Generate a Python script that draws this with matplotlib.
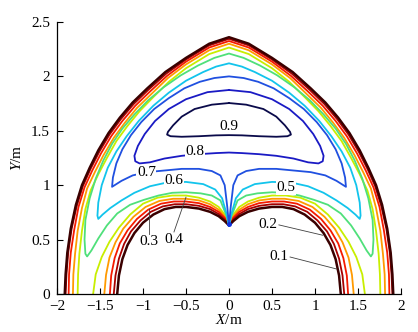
import numpy as np
import matplotlib
matplotlib.use('Agg')
import matplotlib.pyplot as plt

plt.rcParams['font.family'] = ['Liberation Serif', 'DejaVu Serif']
plt.rcParams['mathtext.fontset'] = 'custom'
plt.rcParams['mathtext.it'] = 'Liberation Serif:italic'
plt.rcParams['mathtext.rm'] = 'Liberation Serif'

# contour lines (right half, mirrored at x = 0)
# outer boundary and the levels that run along it: top -> right bottom
out_x = {
    0.0: [0.00, 0.23, 0.50, 0.74, 0.95, 1.12, 1.27, 1.40, 1.52, 1.62, 1.71, 1.78, 1.84, 1.88, 1.90, 1.91],
    0.1: [0.00, 0.23, 0.50, 0.73, 0.94, 1.11, 1.26, 1.39, 1.51, 1.61, 1.70, 1.77, 1.83, 1.87, 1.89, 1.90],
    0.2: [0.00, 0.23, 0.50, 0.72, 0.92, 1.09, 1.24, 1.37, 1.49, 1.59, 1.68, 1.75, 1.80, 1.84, 1.86, 1.865],
    0.3: [0.00, 0.23, 0.50, 0.71, 0.90, 1.07, 1.21, 1.34, 1.46, 1.56, 1.65, 1.71, 1.76, 1.79, 1.81, 1.815],
    0.4: [0.00, 0.23, 0.50, 0.70, 0.88, 1.04, 1.18, 1.31, 1.42, 1.52, 1.61, 1.67, 1.71, 1.74, 1.755, 1.76],
}
out_y = {
    0.0: [2.36, 2.30, 2.17, 2.04, 1.89, 1.76, 1.62, 1.48, 1.32, 1.16, 1.00, 0.82, 0.60, 0.38, 0.18, 0.00],
    0.1: [2.345, 2.285, 2.155, 2.025, 1.875, 1.745, 1.605, 1.465, 1.305, 1.15, 0.99, 0.81, 0.60, 0.38, 0.18, 0.00],
    0.2: [2.325, 2.265, 2.135, 2.005, 1.86, 1.73, 1.59, 1.45, 1.29, 1.135, 0.98, 0.80, 0.59, 0.38, 0.18, 0.00],
    0.3: [2.30, 2.24, 2.11, 1.985, 1.84, 1.71, 1.575, 1.435, 1.275, 1.12, 0.97, 0.79, 0.58, 0.37, 0.18, 0.00],
    0.4: [2.265, 2.205, 2.075, 1.95, 1.81, 1.68, 1.545, 1.405, 1.25, 1.10, 0.95, 0.78, 0.58, 0.37, 0.18, 0.00],
}

# inner boundary and levels along it: cusp -> right bottom
in_x = {
    0.0: [0.00, 0.05, 0.12, 0.22, 0.35, 0.50, 0.62, 0.75, 0.88, 1.00, 1.10, 1.18, 1.24, 1.28, 1.30],
    0.1: [0.00, 0.05, 0.12, 0.22, 0.35, 0.50, 0.63, 0.77, 0.91, 1.03, 1.14, 1.22, 1.28, 1.32, 1.34],
    0.2: [0.00, 0.05, 0.12, 0.22, 0.35, 0.50, 0.64, 0.79, 0.94, 1.07, 1.18, 1.27, 1.33, 1.37, 1.385],
    0.3: [0.00, 0.05, 0.12, 0.22, 0.35, 0.50, 0.65, 0.81, 0.97, 1.11, 1.23, 1.32, 1.39, 1.43, 1.45],
    0.4: [0.00, 0.05, 0.12, 0.22, 0.35, 0.50, 0.66, 0.83, 1.00, 1.15, 1.28, 1.39, 1.48, 1.55, 1.58],
}
in_y = {
    0.0: [0.63, 0.67, 0.715, 0.755, 0.785, 0.80, 0.80, 0.78, 0.73, 0.655, 0.56, 0.45, 0.32, 0.17, 0.00],
    0.1: [0.63, 0.685, 0.735, 0.78, 0.81, 0.825, 0.825, 0.805, 0.755, 0.675, 0.575, 0.46, 0.325, 0.17, 0.00],
    0.2: [0.63, 0.70, 0.755, 0.80, 0.835, 0.85, 0.85, 0.83, 0.775, 0.69, 0.585, 0.465, 0.33, 0.17, 0.00],
    0.3: [0.63, 0.715, 0.775, 0.825, 0.86, 0.875, 0.875, 0.855, 0.80, 0.71, 0.60, 0.475, 0.335, 0.175, 0.00],
    0.4: [0.63, 0.73, 0.80, 0.85, 0.885, 0.905, 0.905, 0.885, 0.83, 0.73, 0.61, 0.48, 0.34, 0.18, 0.00],
}

# levels that leave the cusp, turn on the right side and go over the top
loop_x = {
    0.5: [0.00, 0.03, 0.10, 0.20, 0.33, 0.50, 0.66, 0.82, 0.99, 1.15, 1.30, 1.42, 1.52, 1.60, 1.65, 1.67,
          1.68, 1.67, 1.62, 1.55, 1.46, 1.36, 1.24, 1.10, 0.94, 0.76, 0.56, 0.36, 0.17, 0.00],
    0.6: [0.00, 0.03, 0.08, 0.16, 0.30, 0.50, 0.72, 0.92, 1.10, 1.25, 1.38, 1.47, 1.52, 1.53, 1.52, 1.48,
          1.41, 1.31, 1.19, 1.05, 0.88, 0.70, 0.50, 0.30, 0.15, 0.00],
    0.7: [0.00, 0.02, 0.05, 0.10, 0.20, 0.35, 0.55, 0.75, 0.95, 1.12, 1.25, 1.33, 1.36, 1.35, 1.31, 1.24,
          1.14, 1.02, 0.87, 0.70, 0.52, 0.34, 0.17, 0.00],
}
loop_y = {
    0.5: [0.63, 0.72, 0.86, 0.905, 0.925, 0.935, 0.93, 0.905, 0.865, 0.82, 0.74, 0.63, 0.51, 0.40, 0.345, 0.37,
          0.50, 0.68, 0.88, 1.06, 1.23, 1.38, 1.52, 1.65, 1.78, 1.90, 2.01, 2.10, 2.17, 2.21],
    0.6: [0.63, 0.74, 0.88, 0.96, 1.01, 1.03, 1.025, 0.99, 0.93, 0.86, 0.79, 0.73, 0.69, 0.72, 0.84, 1.00,
          1.16, 1.31, 1.45, 1.59, 1.73, 1.85, 1.96, 2.04, 2.09, 2.12],
    0.7: [0.63, 0.80, 1.00, 1.09, 1.13, 1.15, 1.15, 1.135, 1.12, 1.09, 1.04, 1.00, 0.985, 1.07, 1.20, 1.33,
          1.46, 1.58, 1.70, 1.80, 1.89, 1.95, 1.985, 2.00],
}

# closed islands: top -> right end -> bottom
isl_x = {
    0.8: [0.00, 0.25, 0.50, 0.70, 0.86, 0.98, 1.06, 1.10, 1.09, 1.04, 0.92, 0.75, 0.55, 0.35, 0.15, 0.00],
    0.9: [0.00, 0.20, 0.40, 0.55, 0.65, 0.71, 0.72, 0.68, 0.55, 0.35, 0.15, 0.00],
}
isl_y = {
    0.8: [1.875, 1.855, 1.79, 1.70, 1.59, 1.47, 1.36, 1.27, 1.22, 1.20, 1.21, 1.245, 1.27, 1.285, 1.295, 1.30],
    0.9: [1.755, 1.74, 1.70, 1.63, 1.55, 1.49, 1.465, 1.45, 1.445, 1.45, 1.458, 1.46],
}

level_colors = {
    0.0: '#3a0000', 0.1: '#a80000', 0.2: '#f51a00', 0.3: '#ff9a00', 0.4: '#c8ee00',
    0.5: '#4fe07a', 0.6: '#12c4ec', 0.7: '#2050e0', 0.8: '#1a1ac4', 0.9: '#0a0a4a',
}

# label text, label position, leader end (None = inline)
labels = [
    ('0.9', 0.00, 1.535, None),
    ('0.8', -0.40, 1.31, None),
    ('0.7', -0.96, 1.12, None),
    ('0.6', -0.64, 1.04, None),
    ('0.5', 0.66, 0.975, None),
    ('0.4', -0.64, 0.50, (-0.50, 0.89)),
    ('0.3', -0.93, 0.48, (-0.93, 0.78)),
    ('0.2', 0.45, 0.635, (1.09, 0.54)),
    ('0.1', 0.58, 0.34, (1.25, 0.23)),
]


def mirror_join(x, y):
    x = np.asarray(x)
    y = np.asarray(y)
    return np.concatenate([-x[::-1], x[1:]]), np.concatenate([y[::-1], y[1:]])


def mirror_close(x, y):
    x = np.asarray(x)
    y = np.asarray(y)
    return np.concatenate([x, -x[::-1][1:]]), np.concatenate([y, y[::-1][1:]])


fig = plt.figure(figsize=(4.18, 3.32), dpi=100)
ax = fig.add_axes([0.1364, 0.1145, 0.8229, 0.8193])

lw = 1.3
for lev in [0.4, 0.3, 0.2, 0.1, 0.0]:
    w = 1.8 if lev == 0.0 else lw
    xx, yy = mirror_join(out_x[lev], out_y[lev])
    ax.plot(xx, yy, color=level_colors[lev], lw=w, solid_joinstyle='round')
    xx, yy = mirror_join(in_x[lev], in_y[lev])
    ax.plot(xx, yy, color=level_colors[lev], lw=w, solid_joinstyle='round')

for lev in [0.5, 0.6, 0.7]:
    xx, yy = mirror_close(loop_x[lev], loop_y[lev])
    ax.plot(xx, yy, color=level_colors[lev], lw=lw, solid_joinstyle='round')

for lev in [0.8, 0.9]:
    xx, yy = mirror_close(isl_x[lev], isl_y[lev])
    ax.plot(xx, yy, color=level_colors[lev], lw=lw, solid_joinstyle='round')

ax.plot([0], [0.64], marker='o', ms=3.5, color='#1030e0', mec='none')

for txt, tx, ty, lead in labels:
    if lead is None:
        ax.text(tx, ty, txt, ha='center', va='center', fontsize=11,
                bbox=dict(fc='white', ec='none', pad=0.3), zorder=5)
    else:
        ax.text(tx, ty, txt, ha='center', va='center', fontsize=11, zorder=5)
        sx = tx + (0.13 if lead[0] > tx + 0.2 else 0.0)
        sy = ty + (0.0 if lead[0] > tx + 0.2 else 0.07)
        ax.plot([sx, lead[0]], [sy, lead[1]], color='#404040', lw=0.6, zorder=4)

ax.set_xlim(-2, 2)
ax.set_ylim(0, 2.5)
ax.set_xticks(np.arange(-2, 2.01, 0.5))
ax.set_yticks(np.arange(0, 2.51, 0.5))
ax.set_xticklabels(['\u22122', '\u22121.5', '\u22121', '\u22120.5', '0', '0.5', '1', '1.5', '2'])
ax.set_yticklabels(['0', '0.5', '1', '1.5', '2', '2.5'])
ax.tick_params(direction='in', length=4, width=0.8, labelsize=11)
ax.tick_params(axis='x', pad=4.5)
ax.tick_params(axis='y', pad=5)
ax.spines['top'].set_visible(False)
ax.spines['right'].set_visible(False)
for s in ['left', 'bottom']:
    ax.spines[s].set_linewidth(0.9)
ax.set_xlabel('$X$/m', fontsize=11, labelpad=0)
ax.set_ylabel('$Y$/m', fontsize=11, labelpad=5)

fig.savefig('out.png', dpi=100)
